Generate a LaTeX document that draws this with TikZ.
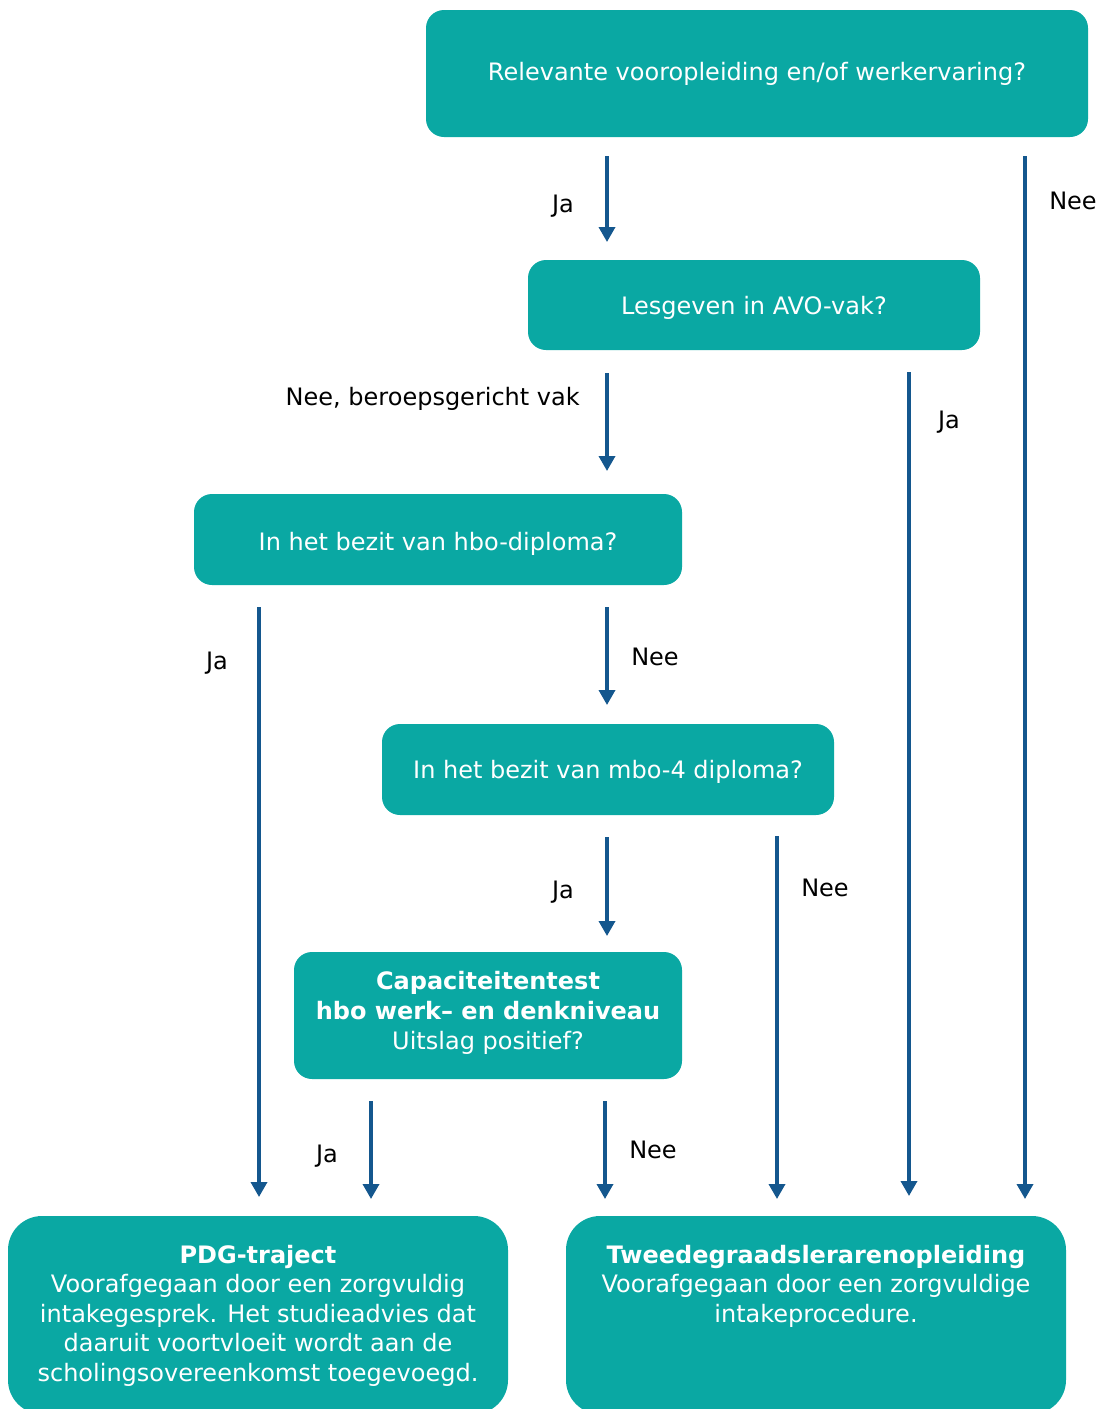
\documentclass[tikz,border=0pt]{standalone}
\usepackage{fontspec}
\setmainfont{DejaVu Sans}
\usetikzlibrary{arrows.meta}
\definecolor{teal}{HTML}{0AA8A3}
\definecolor{arrowblue}{HTML}{14578E}
\tikzset{
  box/.style={fill=teal, draw=none, rounded corners=#1, text=white},
  box/.default=18pt,
  flow/.style={draw=arrowblue, line width=3.5pt, -{Triangle[length=15pt,width=16pt]}},
  lbl/.style={text=black, font=\fontsize{24}{29}\selectfont, inner sep=0pt, anchor=base},
  btxt/.style={text=white, font=\fontsize{24}{29}\selectfont, inner sep=0pt, align=center, anchor=base},
}
\begin{document}
\begin{tikzpicture}[x=1pt,y=-1pt]
\useasboundingbox (0,0) rectangle (1101,1409);
% boxes
\path[box] (426,10) rectangle (1088,137);
\node[btxt] (q1) at (757,80) {Relevante vooropleiding en/of werkervaring?};
\path[box] (528,260) rectangle (980,350);
\node[btxt] (q2) at (754,314) {Lesgeven in AVO-vak?};
\path[box] (194,494) rectangle (682,585);
\node[btxt] (q3) at (438,550) {In het bezit van hbo-diploma?};
\path[box] (382,724) rectangle (834,815);
\node[btxt] (q4) at (608,778) {In het bezit van mbo-4 diploma?};
\path[box] (294,952) rectangle (682,1079);
\node[btxt, font=\fontsize{24}{30}\selectfont, anchor=north] (q5) at (488,971) {\textbf{Capaciteitentest}\\\textbf{hbo werk– en denkniveau}\\Uitslag positief?};
\path[box=34pt] (8,1216) rectangle (508,1414);
\node[btxt, font=\fontsize{24}{29.5}\selectfont, anchor=north] (r1) at (258,1245) {\textbf{PDG-traject}\\Voorafgegaan door een zorgvuldig\\intakegesprek. Het studieadvies dat\\daaruit voortvloeit wordt aan de\\scholingsovereenkomst toegevoegd.};
\path[box=34pt] (566,1216) rectangle (1066,1414);
\node[btxt, font=\fontsize{24}{29.5}\selectfont, anchor=north] (r2) at (816,1245) {\textbf{Tweedegraadslerarenopleiding}\\Voorafgegaan door een zorgvuldige\\intakeprocedure.};
% arrow endpoints
\coordinate (a1s) at (607,156); \coordinate (a1e) at (607,242);
\coordinate (a2s) at (1025,156); \coordinate (a2e) at (1025,1199);
\coordinate (a3s) at (607,373); \coordinate (a3e) at (607,471);
\coordinate (a4s) at (909,372); \coordinate (a4e) at (909,1196);
\coordinate (a5s) at (259,607); \coordinate (a5e) at (259,1197);
\coordinate (a6s) at (607,607); \coordinate (a6e) at (607,705);
\coordinate (a7s) at (607,837); \coordinate (a7e) at (607,936);
\coordinate (a8s) at (777,836); \coordinate (a8e) at (777,1199);
\coordinate (a9s) at (371,1101); \coordinate (a9e) at (371,1199);
\coordinate (a10s) at (605,1101); \coordinate (a10e) at (605,1199);
\draw[flow] (a1s) -- (a1e);
\draw[flow] (a2s) -- (a2e);
\draw[flow] (a3s) -- (a3e);
\draw[flow] (a4s) -- (a4e);
\draw[flow] (a5s) -- (a5e);
\draw[flow] (a6s) -- (a6e);
\draw[flow] (a7s) -- (a7e);
\draw[flow] (a8s) -- (a8e);
\draw[flow] (a9s) -- (a9e);
\draw[flow] (a10s) -- (a10e);
% labels
\node[lbl] (l1) at (563,212) {Ja};
\node[lbl] (l2) at (1073,209) {Nee};
\node[lbl, anchor=base east] (l3) at (580,405) {Nee, beroepsgericht vak};
\node[lbl] (l4) at (949,428) {Ja};
\node[lbl] (l5) at (217,669) {Ja};
\node[lbl] (l6) at (655,665) {Nee};
\node[lbl] (l7) at (563,898) {Ja};
\node[lbl] (l8) at (825,896) {Nee};
\node[lbl] (l9) at (327,1162) {Ja};
\node[lbl] (l10) at (653,1158) {Nee};
\end{tikzpicture}
\end{document}
